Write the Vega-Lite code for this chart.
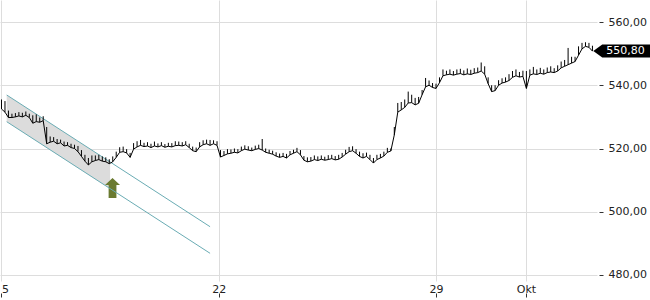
{
  "$schema": "https://vega.github.io/schema/vega-lite/v6.json",
  "width": 597,
  "height": 281,
  "autosize": "none",
  "padding": {"left": 0, "top": 0, "right": 53, "bottom": 19},
  "background": "white",
  "config": {
    "view": {"stroke": null},
    "font": "DejaVu Sans",
    "axis": {"labelFont": "DejaVu Sans", "labelFontSize": 11, "labelColor": "#222", "gridColor": "#dddddd", "gridWidth": 1, "tickColor": "#333", "domain": false}
  },
  "datasets": {
    "price": [
      {"t":0,"l":532.5,"h":535.5},{"t":0.08,"l":531.5,"h":535},{"t":0.16,"l":529.8,"h":532},{"t":0.24,"l":529.8,"h":531},{"t":0.32,"l":530,"h":531.2},{"t":0.4,"l":530.3,"h":531.5},{"t":0.48,"l":530,"h":531.3},{"t":0.56,"l":530.5,"h":531.7},{"t":0.64,"l":529.8,"h":531},{"t":0.72,"l":528,"h":530.5},{"t":0.8,"l":528.5,"h":530.8},{"t":0.88,"l":528.3,"h":529.8},{"t":0.96,"l":528.8,"h":530.2},
      {"t":1.04,"l":521.5,"h":526.8},{"t":1.12,"l":522,"h":523.8},{"t":1.2,"l":522.3,"h":523.6},{"t":1.28,"l":521.5,"h":523},{"t":1.36,"l":521.8,"h":522.8},{"t":1.44,"l":520.8,"h":522.2},{"t":1.52,"l":521,"h":522},{"t":1.6,"l":520.3,"h":521.5},{"t":1.68,"l":520,"h":521.2},{"t":1.76,"l":519,"h":520.8},{"t":1.84,"l":517.5,"h":519.5},{"t":1.92,"l":516,"h":518},{"t":2,"l":514.8,"h":517},{"t":2.08,"l":515.8,"h":517.8},{"t":2.16,"l":516.2,"h":517.8},{"t":2.24,"l":516.5,"h":518},{"t":2.32,"l":516,"h":517.5},{"t":2.4,"l":515.8,"h":517.2},{"t":2.48,"l":515.2,"h":516.6},{"t":2.56,"l":515.8,"h":517.5},{"t":2.64,"l":517.2,"h":519},{"t":2.72,"l":518.8,"h":520.4},{"t":2.8,"l":519,"h":520.6},{"t":2.88,"l":518.6,"h":519.8},{"t":2.96,"l":517.2,"h":518.6},
      {"t":3.04,"l":519.8,"h":521.7},{"t":3.12,"l":520.5,"h":522.3},{"t":3.2,"l":521,"h":522.7},{"t":3.28,"l":520.6,"h":521.8},{"t":3.36,"l":520.8,"h":522},{"t":3.44,"l":520.3,"h":521.5},{"t":3.52,"l":520.8,"h":522.2},{"t":3.6,"l":520.5,"h":521.6},{"t":3.68,"l":520.9,"h":522},{"t":3.76,"l":520.4,"h":521.4},{"t":3.84,"l":520.7,"h":521.8},{"t":3.92,"l":520.5,"h":521.7},{"t":4,"l":520.9,"h":522.3},{"t":4.08,"l":521,"h":522.2},{"t":4.16,"l":520.8,"h":522},{"t":4.24,"l":521.2,"h":522.3},{"t":4.32,"l":520.3,"h":521.5},{"t":4.4,"l":519.3,"h":520.6},{"t":4.48,"l":519,"h":520.3},{"t":4.56,"l":520.5,"h":522},{"t":4.64,"l":521.2,"h":522.6},{"t":4.72,"l":521.5,"h":522.8},{"t":4.8,"l":521,"h":522.7},{"t":4.88,"l":521.5,"h":522.6},{"t":4.96,"l":521,"h":522.3},
      {"t":5.04,"l":517.3,"h":519.5},{"t":5.12,"l":517.8,"h":519.2},{"t":5.2,"l":518.3,"h":519.8},{"t":5.28,"l":518.5,"h":519.7},{"t":5.36,"l":518.8,"h":520},{"t":5.44,"l":518.6,"h":519.8},{"t":5.52,"l":519.3,"h":520.6},{"t":5.6,"l":519.8,"h":521},{"t":5.68,"l":519.5,"h":520.7},{"t":5.76,"l":519.3,"h":520.3},{"t":5.84,"l":519.7,"h":520.9},{"t":5.92,"l":520,"h":521.2},{"t":6,"l":519.5,"h":523},{"t":6.08,"l":518.8,"h":520},{"t":6.16,"l":518.5,"h":519.6},{"t":6.24,"l":518.2,"h":519.3},{"t":6.32,"l":517.6,"h":518.8},{"t":6.4,"l":517.2,"h":518.4},{"t":6.48,"l":517.5,"h":518.6},{"t":6.56,"l":517,"h":518.3},{"t":6.64,"l":518,"h":519.2},{"t":6.72,"l":518.5,"h":519.6},{"t":6.8,"l":519,"h":520.2},{"t":6.88,"l":518,"h":519.5},{"t":6.96,"l":516.3,"h":517.6},
      {"t":7.04,"l":515.8,"h":517.2},{"t":7.12,"l":516,"h":517.3},{"t":7.2,"l":516.5,"h":517.8},{"t":7.28,"l":516.2,"h":517.5},{"t":7.36,"l":516.6,"h":517.8},{"t":7.44,"l":516.3,"h":517.4},{"t":7.52,"l":516.5,"h":517.9},{"t":7.6,"l":516.8,"h":518},{"t":7.68,"l":516.4,"h":517.6},{"t":7.76,"l":516.6,"h":518},{"t":7.84,"l":517.3,"h":518.6},{"t":7.92,"l":518.2,"h":519.6},{"t":8,"l":519,"h":520.5},{"t":8.08,"l":519.3,"h":520.7},{"t":8.16,"l":518.5,"h":519.8},{"t":8.24,"l":517.5,"h":519},{"t":8.32,"l":517,"h":518.5},{"t":8.4,"l":517.5,"h":518.7},{"t":8.48,"l":516.5,"h":518},{"t":8.56,"l":515.4,"h":517},{"t":8.64,"l":516.5,"h":518},{"t":8.72,"l":517,"h":518.3},{"t":8.8,"l":517.6,"h":519},{"t":8.88,"l":518.8,"h":520.2},{"t":8.96,"l":519.2,"h":520},
      {"t":9.04,"l":524.3,"h":526.8},{"t":9.12,"l":531.5,"h":534.4},{"t":9.2,"l":532.2,"h":534.7},{"t":9.28,"l":533,"h":535.5},{"t":9.36,"l":534.4,"h":538},{"t":9.44,"l":534.5,"h":537},{"t":9.52,"l":533.8,"h":536},{"t":9.6,"l":534.3,"h":536.3},{"t":9.68,"l":537,"h":538.5},{"t":9.76,"l":539.5,"h":542.3},{"t":9.84,"l":540,"h":541.5},{"t":9.92,"l":539.3,"h":540.7},{"t":10,"l":539,"h":540.5},{"t":10.08,"l":540.8,"h":542.5},{"t":10.16,"l":543,"h":545},{"t":10.24,"l":543.3,"h":544.6},{"t":10.32,"l":543.5,"h":545},{"t":10.4,"l":543.2,"h":544.5},{"t":10.48,"l":543.5,"h":545},{"t":10.56,"l":543.7,"h":545.2},{"t":10.64,"l":543.3,"h":544.7},{"t":10.72,"l":543.6,"h":545.3},{"t":10.8,"l":543.4,"h":544.9},{"t":10.88,"l":543.8,"h":545.4},{"t":10.96,"l":544,"h":545.6},
      {"t":11.04,"l":544.5,"h":547.2},{"t":11.12,"l":543.5,"h":546},{"t":11.2,"l":540.5,"h":542.5},{"t":11.28,"l":538,"h":540},{"t":11.36,"l":538.3,"h":540},{"t":11.44,"l":540,"h":541.6},{"t":11.52,"l":540.7,"h":542.2},{"t":11.6,"l":541,"h":542.5},{"t":11.68,"l":541.5,"h":543.5},{"t":11.76,"l":542.5,"h":544.5},{"t":11.84,"l":543,"h":545},{"t":11.92,"l":542.6,"h":544.2},{"t":12,"l":542.8,"h":544.6},{"t":12.08,"l":539,"h":544.5},{"t":12.16,"l":543.2,"h":545},{"t":12.24,"l":543.6,"h":545.8},{"t":12.32,"l":543.4,"h":545},{"t":12.4,"l":543.8,"h":545.5},{"t":12.48,"l":543.5,"h":545},{"t":12.56,"l":544,"h":545.6},{"t":12.64,"l":544.2,"h":546},{"t":12.72,"l":544,"h":545.4},{"t":12.8,"l":544.5,"h":546.3},{"t":12.88,"l":545.5,"h":547.5},{"t":12.96,"l":546,"h":548},
      {"t":13.04,"l":546.5,"h":551.8},{"t":13.12,"l":547,"h":549},{"t":13.2,"l":547.5,"h":549},{"t":13.28,"l":549.5,"h":552.3},{"t":13.36,"l":551.5,"h":553.4},{"t":13.44,"l":552.3,"h":553.6},{"t":13.52,"l":552,"h":553.4},{"t":13.6,"l":550.8,"h":552.5}
    ],
    "channel": [
      {"t":0.12,"u":536.92,"lo":528.47},
      {"t":2.5,"u":515.74,"lo":507.31}
    ],
    "lines": [
      {"t1":0.12,"v1":536.92,"t2":4.8,"v2":495.27},
      {"t1":0.12,"v1":528.47,"t2":4.8,"v2":486.86}
    ],
    "arrow": [{"t":2.555,"v":507.5}],
    "last": [{"t":13.62,"v":550.8,"label":"550,80"}]
  },
  "layer": [
    {
      "data": {"name": "channel"},
      "mark": {"type": "area", "color": "#dcdcdc", "opacity": 1},
      "encoding": {
        "x": {"field": "t", "type": "quantitative", "title": null,
          "scale": {"domain": [-0.0345, 13.705], "nice": false, "zero": false},
          "axis": {"orient": "bottom", "values": [0, 5, 10, 12.07], "grid": true, "offset": 12, "tickSize": 4, "labelPadding": -14, "labelFlush": false, "labelOverlap": false,
            "labelAlign": {"condition": {"test": "datum.value == 0", "value": "left"}, "value": "center"},
            "labelExpr": "datum.value == 0 ? '5' : datum.value == 5 ? '22' : datum.value == 10 ? '29' : 'Okt'"}},
        "y": {"field": "u", "type": "quantitative", "title": null,
          "scale": {"domain": [478.1, 566.96], "nice": false, "zero": false},
          "axis": {"orient": "right", "values": [480, 500, 520, 540, 560], "grid": true, "offset": 2, "tickSize": 4, "labelPadding": 5, "labelFlush": false,
            "labelExpr": "replace(format(datum.value, '.2f'), '.', ',')"}},
        "y2": {"field": "lo"}
      }
    },
    {
      "data": {"name": "arrow"},
      "mark": {"type": "point", "filled": true, "color": "#6a7a30", "opacity": 1, "size": 400,
        "shape": "M0,-1 L0.75,-0.3 L0.39,-0.3 L0.39,1 L-0.39,1 L-0.39,-0.3 L-0.75,-0.3 Z"},
      "encoding": {
        "x": {"field": "t", "type": "quantitative", "title": null},
        "y": {"field": "v", "type": "quantitative", "title": null}
      }
    },
    {
      "data": {"name": "lines"},
      "mark": {"type": "rule", "color": "#6aacb4", "strokeWidth": 1},
      "encoding": {
        "x": {"field": "t1", "type": "quantitative", "title": null},
        "y": {"field": "v1", "type": "quantitative", "title": null},
        "x2": {"field": "t2"},
        "y2": {"field": "v2"}
      }
    },
    {
      "data": {"name": "price"},
      "mark": {"type": "line", "color": "#000000", "strokeWidth": 1},
      "encoding": {
        "x": {"field": "t", "type": "quantitative", "title": null},
        "y": {"field": "l", "type": "quantitative", "title": null}
      }
    },
    {
      "data": {"name": "price"},
      "mark": {"type": "rule", "color": "#000000", "strokeWidth": 1},
      "encoding": {
        "x": {"field": "t", "type": "quantitative", "title": null},
        "y": {"field": "l", "type": "quantitative", "title": null},
        "y2": {"field": "h"}
      }
    },
    {
      "data": {"name": "last"},
      "mark": {"type": "point", "filled": true, "color": "#000000", "opacity": 1, "size": 169,
        "shape": "M0,0 L1.38,-1 L8.8,-1 L8.8,1 L1.38,1 Z"},
      "encoding": {
        "x": {"field": "t", "type": "quantitative", "title": null},
        "y": {"field": "v", "type": "quantitative", "title": null}
      }
    },
    {
      "data": {"name": "last"},
      "mark": {"type": "text", "color": "#ffffff", "font": "DejaVu Sans", "fontSize": 11, "align": "left", "baseline": "middle", "dx": 13},
      "encoding": {
        "x": {"field": "t", "type": "quantitative", "title": null},
        "y": {"field": "v", "type": "quantitative", "title": null},
        "text": {"field": "label"}
      }
    }
  ]
}
